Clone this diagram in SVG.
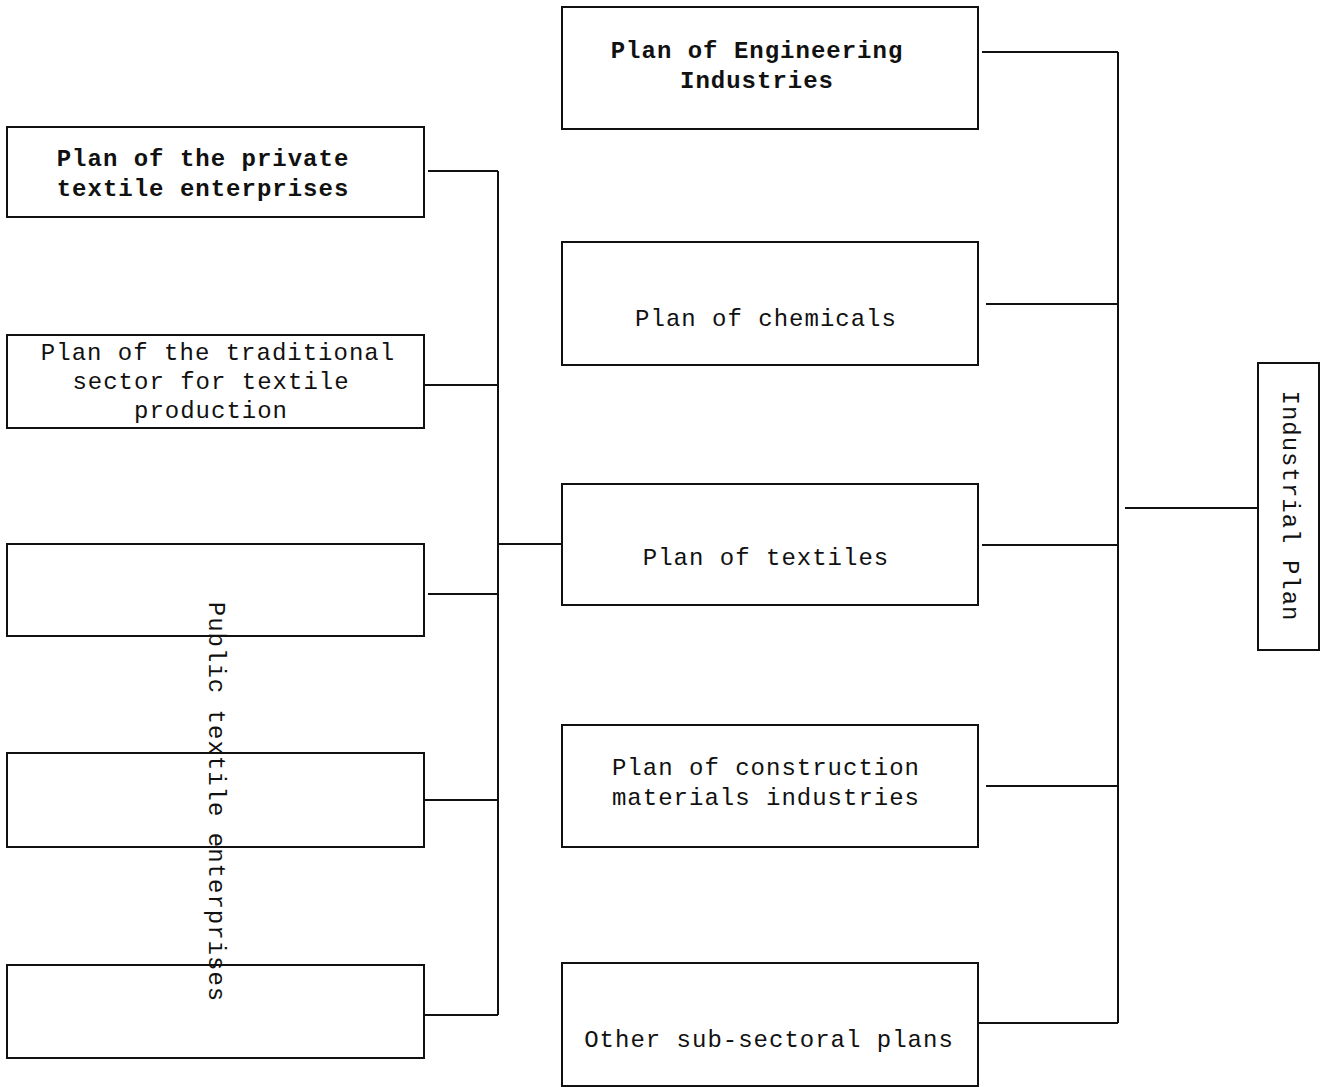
<svg xmlns="http://www.w3.org/2000/svg" width="1320" height="1087" viewBox="0 0 1320 1087">
<style>
.box{fill:#fff;stroke:#111;stroke-width:2}
.t{font-family:"Liberation Mono","DejaVu Sans Mono",monospace;font-size:24px;letter-spacing:1px;fill:#111;text-anchor:middle}
.b{font-weight:bold}
.c{fill:none;stroke:#111;stroke-width:2}
</style>
<rect width="1320" height="1087" fill="#fff"/>
<g id="connectors">
<path class="c" d="M498 171V1015M428 171H498M424 385H498M428 594H498M424 800H498M424 1015H498M498 544H562"/>
<path class="c" d="M1118 52V1023M982 52H1118M986 304H1118M982 545H1118M986 786H1118M972 1023H1118M1125 508H1258"/>
</g>
<g id="n-private"><rect class="box" x="7" y="127" width="417" height="90"/>
<text class="t b" x="203" y="166">Plan of the private</text>
<text class="t b" x="203" y="196">textile enterprises</text></g>
<g id="n-traditional"><rect class="box" x="7" y="335" width="417" height="93"/>
<text class="t" x="218" y="360">Plan of the traditional</text>
<text class="t" x="211" y="389">sector for textile</text>
<text class="t" x="211" y="418">production</text></g>
<g id="n-public1"><rect class="box" x="7" y="544" width="417" height="92"/></g>
<g id="n-public2"><rect class="box" x="7" y="753" width="417" height="94"/></g>
<g id="n-public3"><rect class="box" x="7" y="965" width="417" height="93"/></g>
<g id="n-public-label"><text class="t" transform="translate(216,802) rotate(90)" y="7">Public textile enterprises</text></g>
<g id="n-engineering"><rect class="box" x="562" y="7" width="416" height="122"/>
<text class="t b" x="757" y="58">Plan of Engineering</text>
<text class="t b" x="757" y="88">Industries</text></g>
<g id="n-chemicals"><rect class="box" x="562" y="242" width="416" height="123"/>
<text class="t" x="766" y="326">Plan of chemicals</text></g>
<g id="n-textiles"><rect class="box" x="562" y="484" width="416" height="121"/>
<text class="t" x="766" y="565">Plan of textiles</text></g>
<g id="n-construction"><rect class="box" x="562" y="725" width="416" height="122"/>
<text class="t" x="766" y="775">Plan of construction</text>
<text class="t" x="766" y="805">materials industries</text></g>
<g id="n-other"><rect class="box" x="562" y="963" width="416" height="123"/>
<text class="t" x="769" y="1047">Other sub-sectoral plans</text></g>
<g id="n-industrial"><rect class="box" x="1258" y="363" width="61" height="287"/>
<text class="t" transform="translate(1290,506) rotate(90)" y="7">Industrial Plan</text></g>
</svg>
